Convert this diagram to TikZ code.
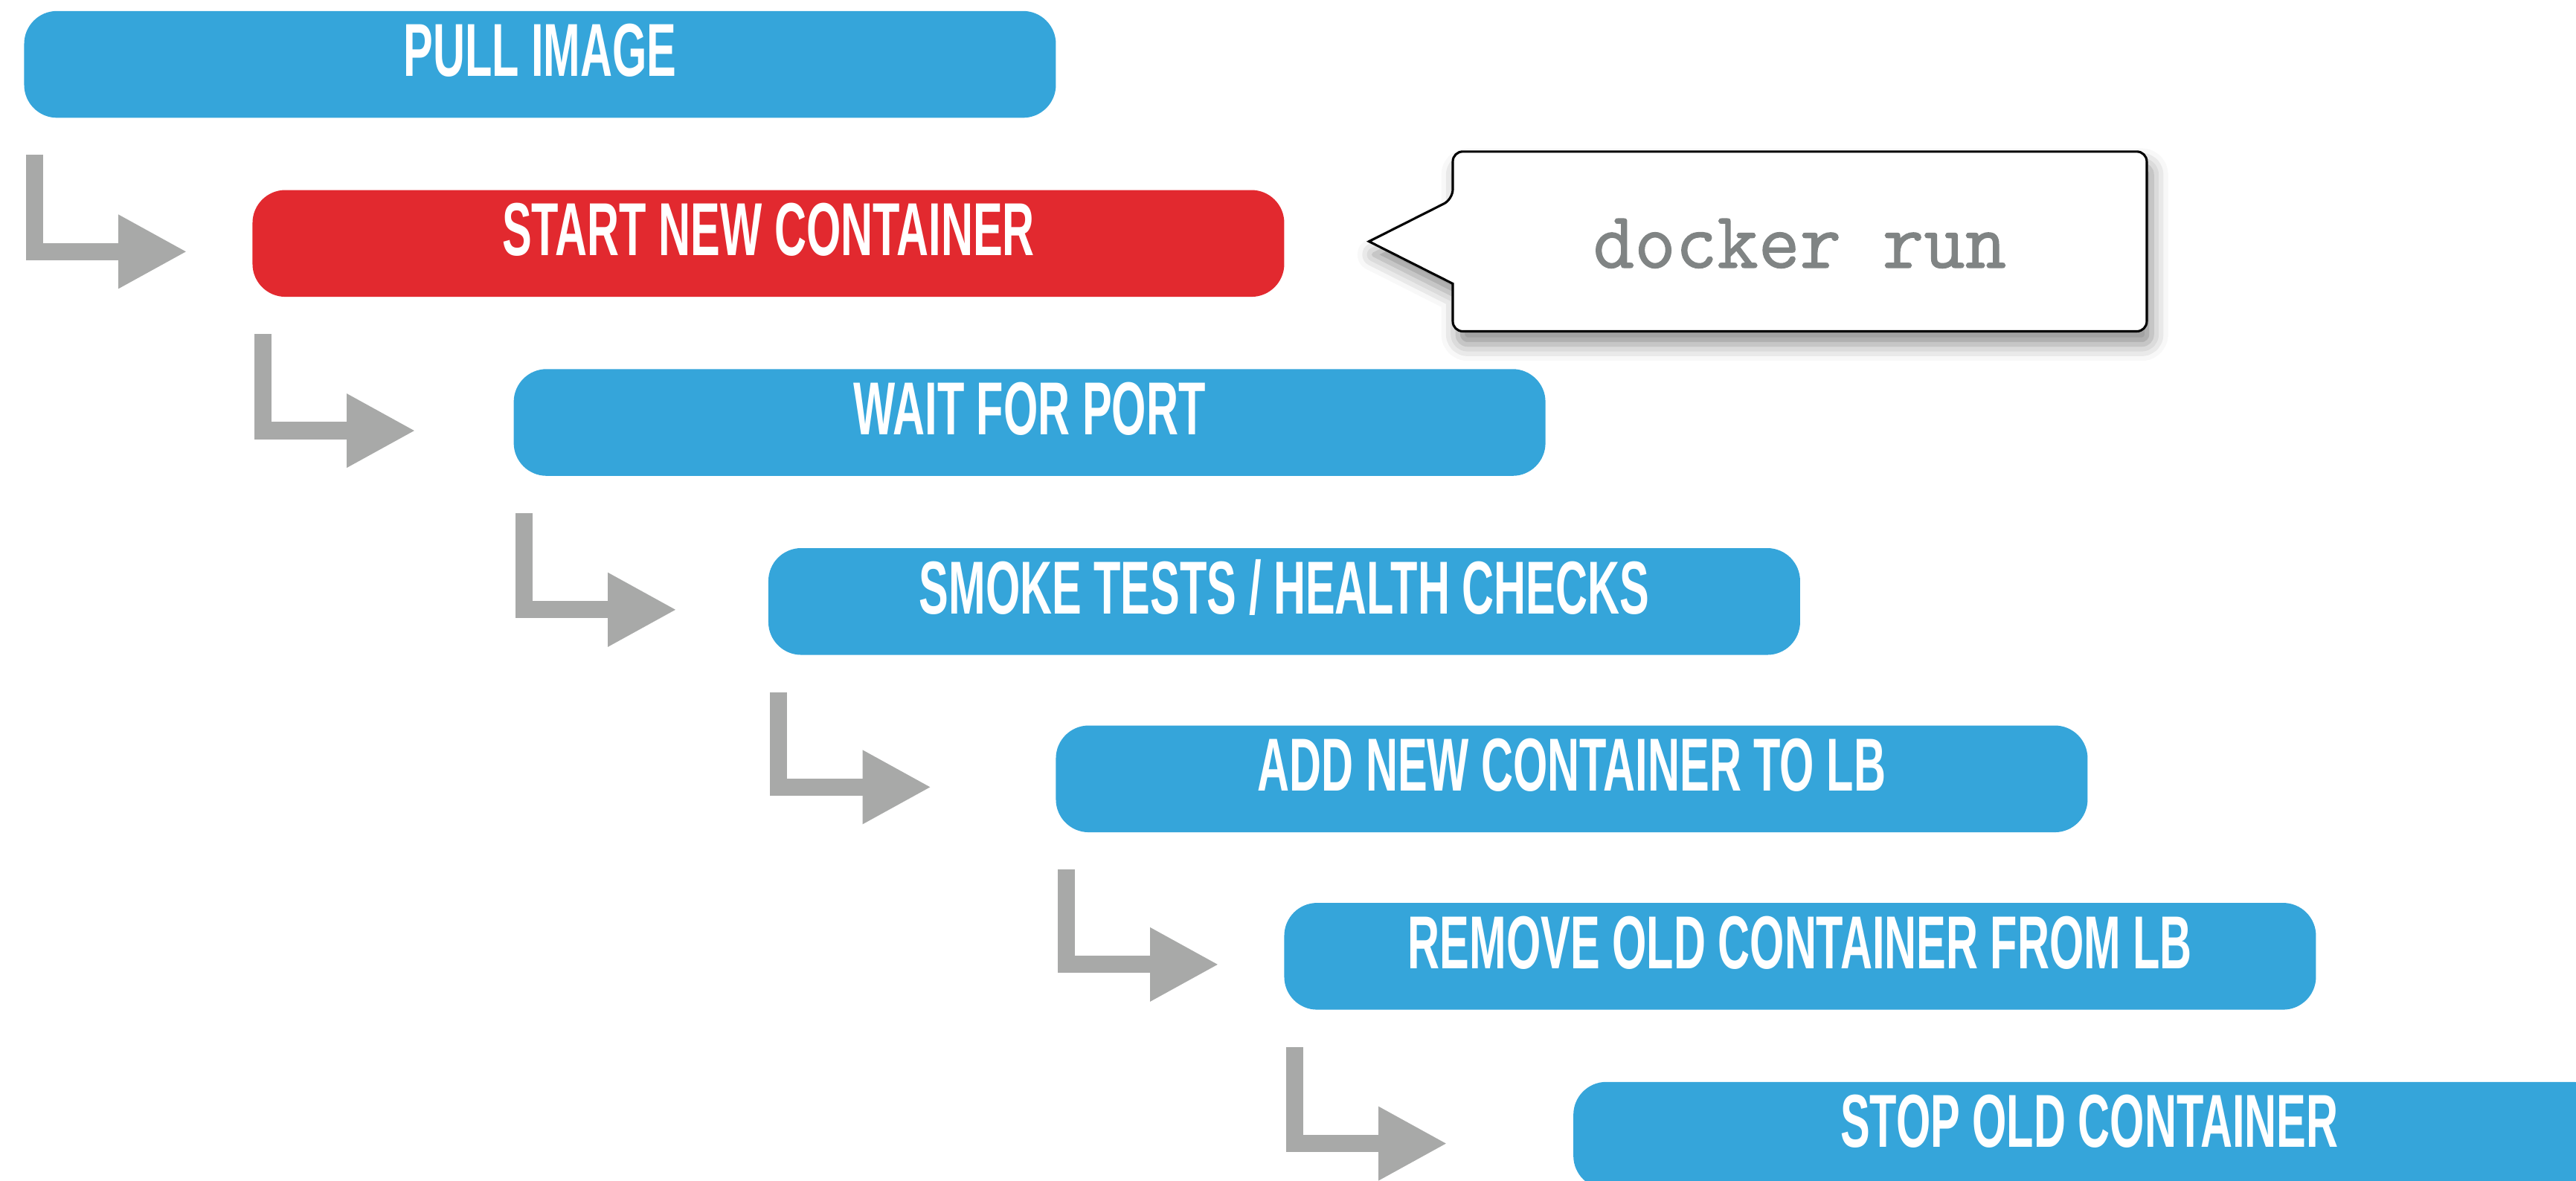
\documentclass[tikz,border=0pt]{standalone}
\usepackage{fontspec}
\usepackage{xcolor}
\usetikzlibrary{arrows.meta,calc,backgrounds,shadows.blur}
\newfontfamily\stepfont{Liberation Sans}[FakeStretch=0.59]
\newfontfamily\cmdfont{Latin Modern Mono}[FakeBold=1.2]
\definecolor{stepblue}{RGB}{53, 165, 218}
\definecolor{stepred}{RGB}{226, 41, 47}
\definecolor{flowgray}{RGB}{168, 169, 168}
\definecolor{cmdgray}{RGB}{128, 132, 132}

\tikzset{
  stepbox/.style={fill=stepblue, rounded corners=0.2cm, anchor=north west,
    minimum width=6.28cm, minimum height=0.65cm, inner sep=0pt, text=white,
    font=\stepfont\bfseries\fontsize{13}{15}\selectfont,
    text height=0.33cm, text depth=0.183cm},
  flow/.style={draw=flowgray, line width=0.105cm, line join=miter,
    -{Triangle[length=0.42cm,width=0.42cm]}},
  cmdnode/.style={minimum width=4.21cm, minimum height=1.08cm, inner sep=0pt,
    text=cmdgray, font=\cmdfont\fontsize{13.9}{15}\selectfont,
    text height=0.32cm, text depth=0cm},
  callout/.style={draw=black, line width=0.4pt, fill=white,
    blur shadow={shadow xshift=0.03cm, shadow yshift=-0.08cm,
      shadow blur radius=0.1cm, shadow opacity=45}}
}

\begin{document}
\begin{tikzpicture}
        \clip (0,0) rectangle (15.68,-7.19);

        % steps
        \node[stepbox] (pull) at (0.14,-0.06) {PULL IMAGE};
        \node[stepbox, fill=stepred] (start) at (1.53,-1.15) {START NEW CONTAINER};
        \node[stepbox] (wait) at (3.12,-2.24) {WAIT FOR PORT};
        \node[stepbox] (smoke) at (4.67,-3.33) {SMOKE TESTS / HEALTH CHECKS};
        \node[stepbox] (addlb) at (6.42,-4.41) {ADD NEW CONTAINER TO LB};
        \node[stepbox] (rmlb) at (7.81,-5.49) {REMOVE OLD CONTAINER FROM LB};
        \node[stepbox] (stop) at (9.57,-6.58) {STOP OLD CONTAINER};

        % elbow arrows
        \draw[flow] ([shift={(0.07,-0.22)}]pull.south west) |- ($(pull.south west |- start.west)+(1.00,-0.05)$);
        \draw[flow] ([shift={(0.07,-0.22)}]start.south west) |- ($(start.south west |- wait.west)+(1.00,-0.05)$);
        \draw[flow] ([shift={(0.07,-0.22)}]wait.south west) |- ($(wait.south west |- smoke.west)+(1.00,-0.05)$);
        \draw[flow] ([shift={(0.07,-0.22)}]smoke.south west) |- ($(smoke.south west |- addlb.west)+(1.00,-0.05)$);
        \draw[flow] ([shift={(0.07,-0.22)}]addlb.south west) |- ($(addlb.south west |- rmlb.west)+(1.00,-0.05)$);
        \draw[flow] ([shift={(0.07,-0.22)}]rmlb.south west) |- ($(rmlb.south west |- stop.west)+(1.00,-0.05)$);

        % callout
        \node[cmdnode] (run) at (10.955,-1.47) {docker run};
        \begin{scope}[on background layer]
        \draw[callout] ($(run.west)+(-0.51,0)$) -- ($(run.south west)+(0,0.29)$)
            [rounded corners=0.06cm] -- (run.south west) -- (run.south east)
            -- (run.north east) -- (run.north west) -- ($(run.north west)+(0,-0.29)$)
            [sharp corners] -- cycle;
        \end{scope}
    \end{tikzpicture}
\end{document}
